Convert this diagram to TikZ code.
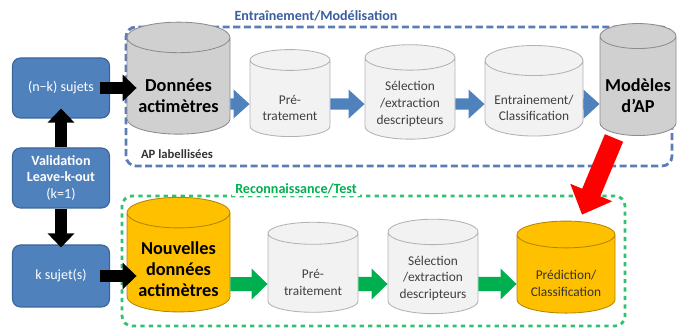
\documentclass[tikz,border=0pt]{standalone}
\usepackage{xcolor}
\usepackage{fontspec}
\setmainfont{Carlito}
\usepackage{tikz}
\usetikzlibrary{arrows.meta,positioning,calc,shapes.geometric}
\definecolor{boxblue}{HTML}{4F81BD}
\definecolor{boxblueline}{HTML}{3B659A}
\definecolor{frameblue}{HTML}{5A7DB5}
\definecolor{titleblue}{HTML}{3A5FA0}
\definecolor{framegreen}{HTML}{33C070}
\definecolor{arrowgreen}{HTML}{00B050}
\definecolor{cylgray}{HTML}{D0D0D0}
\definecolor{cyllight}{HTML}{F2F2F2}
\definecolor{cylorange}{HTML}{FFC000}
\newcommand{\cylpad}[1]{\rule{0pt}{#1}}
\tikzset{
  subject/.style={
    rectangle,
    rounded corners=2mm,
    draw=boxblueline,
    fill=boxblue,
    line width=0.8pt,
    minimum width=24.25mm,
    minimum height=15mm,
    align=center,
    text=white,
    font=\fontsize{10}{12}\selectfont
  }
}
\tikzset{
  store/.style={
    cylinder,
    shape border rotate=90,
    aspect=0.38,
    draw=black!30,
    fill=cyllight,
    line width=0.6pt,
    inner sep=0pt,
    align=center,
    text=black!75,
    font=\fontsize{9.5}{12}\selectfont
  }
}
\tikzset{
  data store/.style={
    store,
    draw=black!45,
    fill=cylgray,
    text=black,
    font=\fontsize{13}{15}\selectfont\bfseries
  }
}
\tikzset{
  new store/.style={
    store,
    draw=cylorange!70!black,
    fill=cylorange,
    text=black,
    font=\fontsize{13}{15}\selectfont\bfseries
  }
}
\tikzset{
  result store/.style={
    store,
    draw=cylorange!70!black,
    fill=cylorange,
    text=black!80
  }
}
\tikzset{
  train frame/.style={
    rectangle,
    rounded corners=2.5mm,
    draw=frameblue,
    line width=2pt,
    dash pattern=on 5pt off 2.5pt
  }
}
\tikzset{
  test frame/.style={
    rectangle,
    rounded corners=2.5mm,
    draw=framegreen,
    line width=2pt,
    dash pattern=on 3pt off 3pt
  }
}
\tikzset{
  frame label/.style={
    fill=white,
    inner xsep=2pt,
    inner ysep=1pt,
    font=\fontsize{10}{12}\selectfont\bfseries
  }
}
\tikzset{
  move/.style={
    -{Triangle[length=3.5mm,width=6.5mm]},
    draw=black,
    line width=8.5pt
  }
}
\tikzset{
  train step/.style={
    -{Triangle[length=4mm,width=7mm]},
    draw=boxblue,
    line width=8pt
  }
}
\tikzset{
  test step/.style={
    -{Triangle[length=4mm,width=7.5mm]},
    draw=arrowgreen,
    line width=10pt
  }
}
\tikzset{
  apply/.style={
    -{Triangle[length=6mm,width=11mm]},
    draw=red,
    line width=14pt
  }
}

\begin{document}
\begin{tikzpicture}[x=0.25mm,y=-0.25mm]

    \useasboundingbox (0,0) rectangle (677,329);

    % ------------------------------------------------------------
    % Frames
    % ------------------------------------------------------------

    \node[train frame,minimum width=136.5mm,minimum height=34.75mm]
      (trainbox) at (399,96.5) {};

    \node[test frame,minimum width=125.75mm,minimum height=32.5mm]
      (testbox) at (373.5,261) {};

    \node[frame label,text=titleblue] (traintitle) at (316,16)
    {Entraînement/Modélisation};

    \node[frame label,text=arrowgreen] (testtitle) at (296,189)
    {Reconnaissance/Test};

    % ------------------------------------------------------------
    % Subjects
    % ------------------------------------------------------------

    \node[subject] (nk) at (61,88) {(n−k) sujets};

    \node[subject,font=\fontsize{10}{12}\selectfont\bfseries] (val) at (61,178)
    {Validation\\Leave-k-out\\{\mdseries (k=1)}};

    \node[subject,minimum height=15.5mm] (ks) at (61,276) {k sujet(s)};

    % ------------------------------------------------------------
    % Training chain
    % ------------------------------------------------------------

    \node[data store,minimum width=25.75mm,minimum height=28mm] (don) at (178.5,86)
    {\cylpad{8mm}Données\\actimètres};

    \node[frame label,fill=none,text=black!80,font=\fontsize{9}{11}\selectfont\bfseries]
      (aplab) at (177,154) {AP labellisées};

    \node[store,minimum width=20mm,minimum height=21.75mm] (pre) at (290,98.5)
    {\cylpad{7mm}Pré-\\tratement};

    \node[store,minimum width=22.5mm,minimum height=21.75mm] (sel) at (410,98.5)
    {\cylpad{5mm}Sélection\\/extraction\\descripteurs};

    \node[store,minimum width=24.5mm,minimum height=21.75mm] (ent) at (534,98.5)
    {\cylpad{7mm}Entrainement/\\Classification};

    \node[data store,minimum width=19mm,minimum height=28mm] (mod) at (638,86)
    {\cylpad{8mm}Modèles\\d’AP};

    % ------------------------------------------------------------
    % Test chain
    % ------------------------------------------------------------

    \node[new store,minimum width=25.75mm,minimum height=27.75mm] (nou) at (178.5,262.5)
    {\cylpad{6.5mm}Nouvelles\\données\\actimètres};

    \node[store,minimum width=22.5mm,minimum height=22.5mm] (pre2) at (313,273)
    {\cylpad{7mm}Pré-\\traitement};

    \node[store,minimum width=22.5mm,minimum height=22.5mm] (sel2) at (433,273)
    {\cylpad{5mm}Sélection\\/extraction\\descripteurs};

    \node[result store,minimum width=24.5mm,minimum height=23mm] (pred) at (566,274)
    {\cylpad{7mm}Prédiction/\\Classification};

    % ------------------------------------------------------------
    % Edges
    % ------------------------------------------------------------

    \draw[move] (val.north) -- ([yshift=2.5mm]nk.south);

    \draw[move] (val.south) -- ([yshift=-0.75mm]ks.north);

    \draw[move] ([xshift=-2.5mm]nk.east) -- ([xshift=2.5mm]nk.east -| don.west);

    \draw[move] ([xshift=-2.5mm]ks.east) -- ([xshift=2.5mm]ks.east -| nou.west);

    \draw[train step] ([yshift=-4.5mm]don.east) -- ([yshift=-1.4mm]pre.west);

    \draw[train step] ([yshift=-1.4mm]pre.east) -- ([yshift=-1.4mm]sel.west);

    \draw[train step] ([yshift=-1.4mm]sel.east) -- ([yshift=-1.4mm]ent.west);

    \draw[train step] ([yshift=-1.4mm]ent.east) -- ([yshift=-4.5mm]mod.west);

    \draw[test step] ([yshift=-5.4mm]nou.east) -- ([yshift=-2.75mm]pre2.west);

    \draw[test step] ([yshift=-2.75mm]pre2.east) -- ([yshift=-2.75mm]sel2.west);

    \draw[test step] ([yshift=-2.75mm]sel2.east) -- ([yshift=-2.5mm]pred.west);

    \draw[apply]
      ([xshift=-6mm,yshift=-0.5mm]mod.south)
      --
      ([xshift=4mm,yshift=1.5mm]pred.north);

\end{tikzpicture}
\end{document}
